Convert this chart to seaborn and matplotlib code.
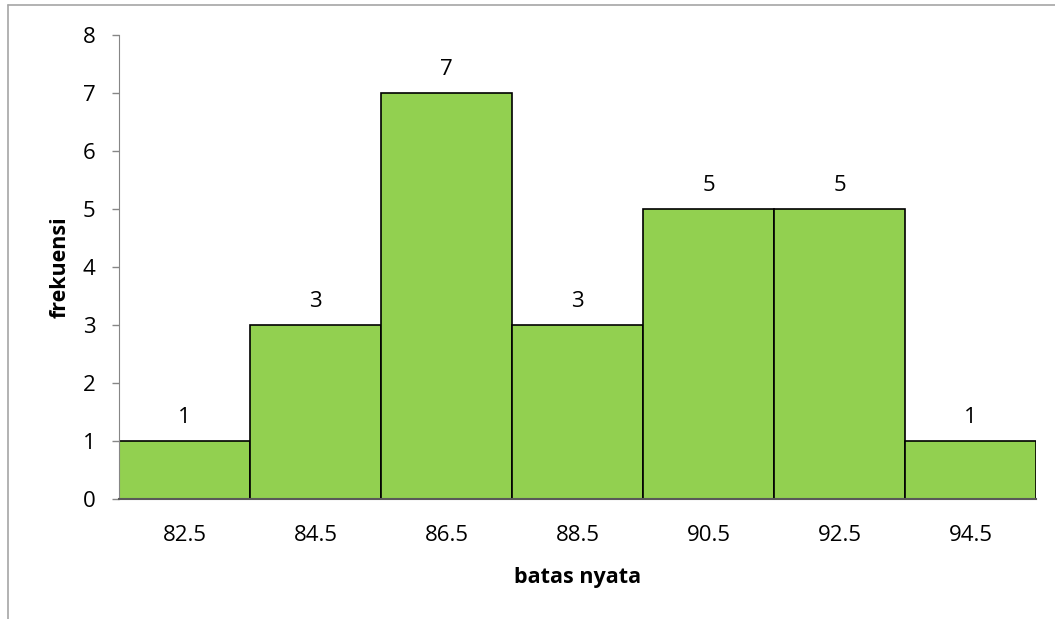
import pandas as pd
import matplotlib.pyplot as plt
import seaborn as sns
from matplotlib.lines import Line2D

# data
batas = ['82.5', '84.5', '86.5', '88.5', '90.5', '92.5', '94.5']
frekuensi = [1, 3, 7, 3, 5, 5, 1]

data = pd.DataFrame({'batas nyata': batas, 'frekuensi': frekuensi})

sns.set_style('white')
plt.rcParams['font.family'] = ['Open Sans', 'DejaVu Sans']
plt.rcParams['text.color'] = 'black'
plt.rcParams['axes.labelcolor'] = 'black'
plt.rcParams['xtick.color'] = 'black'
plt.rcParams['ytick.color'] = 'black'

fig = plt.figure(figsize=(10.55, 6.19), dpi=100)
ax = fig.add_axes([0.1128, 0.1939, 0.8692, 0.7496])

sns.barplot(x='batas nyata', y='frekuensi', data=data, color='#92D050',
            width=1.0, edgecolor='black', linewidth=1.2, saturation=1, ax=ax)

for i, v in enumerate(frekuensi):
    ax.annotate(str(v), (i, v), xytext=(0, 9.5), textcoords='offset points',
                ha='center', va='bottom', fontsize=16)

ax.set_xlim(-0.5, len(batas) - 0.5)
ax.set_ylim(0, 8)
ax.set_yticks(range(0, 9))
ax.set_xlabel('batas nyata', fontsize=15.5, fontweight='bold', labelpad=15)
ax.set_ylabel('frekuensi', fontsize=15.5, fontweight='bold', labelpad=9)
ax.tick_params(axis='y', length=5, width=1, color='#868686', labelsize=16, pad=12, left=True)
ax.tick_params(axis='x', length=0, labelsize=16, pad=19)

for side in ['top', 'right']:
    ax.spines[side].set_visible(False)
ax.spines['left'].set_color('#868686')
ax.spines['bottom'].set_color('#595959')
ax.spines['bottom'].set_linewidth(1.5)

# chart area border (top and left edges only visible)
fig.add_artist(Line2D([0.0076, 0.0076], [0, 0.992], color='#a6a6a6', lw=1.2, transform=fig.transFigure))
fig.add_artist(Line2D([0.0076, 1], [0.992, 0.992], color='#a6a6a6', lw=1.2, transform=fig.transFigure))

plt.savefig('out.png', dpi=100)
